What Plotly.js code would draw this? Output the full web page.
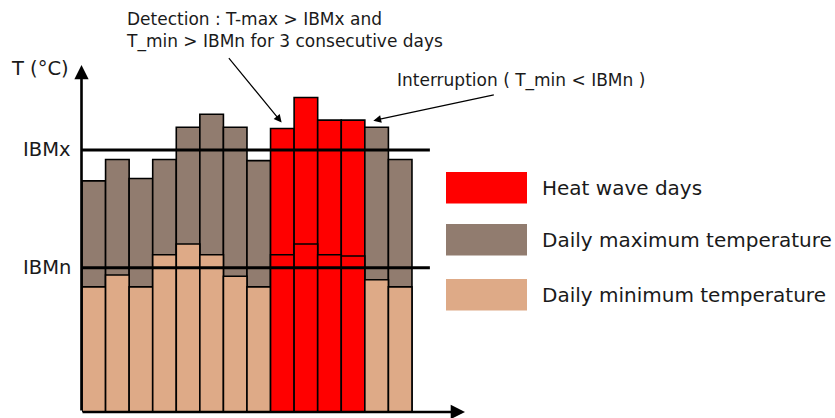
<!DOCTYPE html>
<html><head><meta charset="utf-8">
<script src="https://cdn.plot.ly/plotly-3.0.1.min.js"></script>
<style>html,body{margin:0;padding:0;background:#fff;overflow:hidden}</style>
</head><body><div id="chart" style="width:835px;height:418px"></div>
<script>
// ---- data ----
const days = [1, 2, 3, 4, 5, 6, 7, 8, 9, 10, 11, 12, 13, 14];
const tmax = [31.4, 33.2, 31.6, 33.2, 35.9, 37.0, 35.9, 33.1, 35.8, 38.4, 36.5, 36.5, 35.9, 33.2];
const tmin = [22.5, 23.5, 22.5, 25.2, 26.1, 25.2, 23.4, 22.5, 25.2, 26.1, 25.2, 25.1, 23.1, 22.5];
const heatWave = [0, 0, 0, 0, 0, 0, 0, 0, 1, 1, 1, 1, 0, 0];
const IBMx = 34.0;
const IBMn = 24.1;
const legendLabels = ['Heat wave days', 'Daily maximum temperature', 'Daily minimum temperature'];
const thresholdLabels = ['IBMx', 'IBMn'];
const yLabel = 'T (°C)';
const detectionText = 'Detection : T-max > IBMx and<br>T_min > IBMn for 3 consecutive days';
const interruptionText = 'Interruption ( T_min < IBMn )';

// ---- styling ----
const RED = '#ff0000', BROWN = '#917c6f', TAN = '#deaa87';
const FONT = 'DejaVu Sans, sans-serif';
const TXT = '#1a1a1a';
const Y0 = 12;           // axis origin
const W = 835, H = 418;
const M = {l: 82, r: 370, t: 65, b: 6};
const XR = [0.5, 16.75];
const YR = [Y0, 41.13];
const pw = W - M.l - M.r, ph = H - M.t - M.b;
const px = p => (p - M.l) / pw;          // pixel -> paper x
const py = p => (H - M.b - p) / ph;      // pixel -> paper y

const maxColors = heatWave.map(h => h ? RED : BROWN);
const minColors = heatWave.map(h => h ? RED : TAN);

const traces = [
  {type: 'bar', x: days, y: tmax.map(v => v - Y0), base: Y0, width: 1,
   marker: {color: maxColors, line: {color: '#000', width: 1.6}}, hoverinfo: 'skip', name: 'Tmax'},
  {type: 'bar', x: days, y: tmin.map(v => v - Y0), base: Y0, width: 1,
   marker: {color: minColors, line: {color: '#000', width: 1.6}}, hoverinfo: 'skip', name: 'Tmin'}
];

const shapes = [
  {type: 'line', xref: 'x', yref: 'y', x0: 0.5, x1: 15.26, y0: IBMx, y1: IBMx, line: {color: '#000', width: 3}},
  {type: 'line', xref: 'x', yref: 'y', x0: 0.5, x1: 15.26, y0: IBMn, y1: IBMn, line: {color: '#000', width: 3}}
];
const swatchColors = [RED, BROWN, TAN];
const swatchTop = [172, 224, 279];
swatchColors.forEach((c, i) => {
  shapes.push({type: 'rect', xref: 'paper', yref: 'paper', x0: px(446), x1: px(527),
    y0: py(swatchTop[i]), y1: py(swatchTop[i] + 31.5), fillcolor: c, line: {width: 0}});
});

const annotations = [
  // y axis arrow
  {xref: 'paper', yref: 'paper', x: px(81.5), y: 1, ax: 0, ay: ph, axref: 'pixel', ayref: 'pixel',
   showarrow: true, arrowhead: 2, arrowsize: 1.1, arrowwidth: 2.6, arrowcolor: '#000', text: ''},
  // x axis arrow
  {xref: 'paper', yref: 'paper', x: 1, y: py(412), ax: -(pw + 1), ay: 0, axref: 'pixel', ayref: 'pixel',
   showarrow: true, arrowhead: 2, arrowsize: 1.1, arrowwidth: 2.6, arrowcolor: '#000', text: ''},
  // axis label
  {xref: 'paper', yref: 'paper', x: px(71), y: py(68), xanchor: 'right', yanchor: 'middle', showarrow: false,
   text: yLabel, font: {family: FONT, size: 19.5, color: TXT}},
  {xref: 'paper', yref: 'y', x: px(73), y: IBMx, xanchor: 'right', yanchor: 'middle', showarrow: false,
   text: thresholdLabels[0], font: {family: FONT, size: 19.5, color: TXT}},
  {xref: 'paper', yref: 'y', x: px(73), y: IBMn, xanchor: 'right', yanchor: 'middle', showarrow: false,
   text: thresholdLabels[1], font: {family: FONT, size: 19.5, color: TXT}},
  // detection
  {xref: 'paper', yref: 'paper', x: px(124), y: py(30.5), xanchor: 'left', yanchor: 'middle', align: 'left',
   showarrow: false, text: detectionText, font: {family: FONT, size: 17, color: TXT}},
  {xref: 'x', yref: 'y', x: 8.97, y: 36.3, ax: -54, ay: -66, axref: 'pixel', ayref: 'pixel',
   showarrow: true, arrowhead: 2, arrowsize: 1.3, arrowwidth: 1.2, arrowcolor: '#000', text: ''},
  // interruption
  {xref: 'paper', yref: 'paper', x: px(395), y: py(80.7), xanchor: 'left', yanchor: 'middle',
   showarrow: false, text: interruptionText.replace('<', '&lt;'), font: {family: FONT, size: 17, color: TXT}},
  {xref: 'x', yref: 'y', x: 12.86, y: 36.46, ax: 122, ay: -26, axref: 'pixel', ayref: 'pixel',
   showarrow: true, arrowhead: 2, arrowsize: 1.3, arrowwidth: 1.2, arrowcolor: '#000', text: ''}
];
legendLabels.forEach((t, i) => {
  annotations.push({xref: 'paper', yref: 'paper', x: px(540), y: py(swatchTop[i] + 15.75),
    xanchor: 'left', yanchor: 'middle', showarrow: false, text: t,
    font: {family: FONT, size: 20, color: TXT}});
});

const layout = {
  width: W, height: H, autosize: false,
  margin: M,
  paper_bgcolor: '#fff', plot_bgcolor: '#fff',
  barmode: 'overlay', bargap: 0,
  showlegend: false,
  xaxis: {range: XR, visible: false, fixedrange: true},
  yaxis: {range: YR, visible: false, fixedrange: true},
  shapes: shapes,
  annotations: annotations
};

Plotly.newPlot('chart', traces, layout, {staticPlot: true, displayModeBar: false});
</script>
</body></html>
